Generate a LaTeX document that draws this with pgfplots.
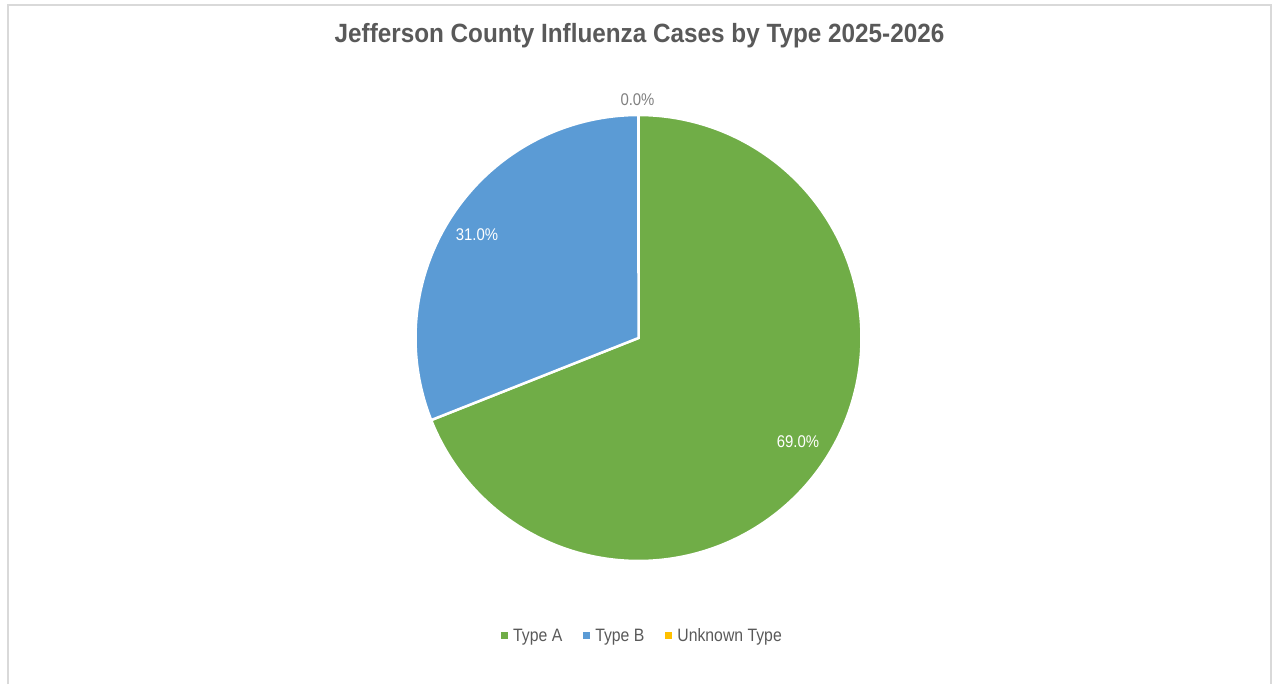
\documentclass[border=0pt]{standalone}
\usepackage{pgfplots}
\pgfplotsset{compat=1.18}
\usepackage{fontspec}
\setmainfont{Liberation Sans}[FakeStretch=0.88]
\newfontfamily\titlefont{Liberation Sans}[FakeStretch=0.92]
\definecolor{cA}{HTML}{70AD47}
\definecolor{cB}{HTML}{5B9BD5}
\definecolor{cU}{HTML}{FFC000}
\definecolor{txt}{HTML}{595959}
\definecolor{lbl}{HTML}{7F7F7F}
\definecolor{frame}{HTML}{D9D9D9}
% data (percent of cases)
\def\vA{69.0}
\def\vB{31.0}
\def\vU{0.0}
\begin{document}
\begin{tikzpicture}
\pgfmathsetmacro\tot{\vA+\vB+\vU}
\pgfmathsetmacro\fA{\vA/\tot}
\pgfmathsetmacro\fB{\vB/\tot}
\pgfmathsetmacro\aA{90-360*\fA}
\pgfmathsetmacro\aB{\aA-360*\fB}
\begin{axis}[
  x=1bp, y=1bp, xmin=0, xmax=1272, ymin=0, ymax=664,
  scale only axis, hide axis, clip=false,
  at={(0,0)}, anchor=origin,
  /pgf/number format/assume math mode=true,
  legend style={at={(axis cs:642.5,28)}, anchor=center, draw=none, fill=none,
    font=\fontsize{18}{20}\selectfont\color{txt}, legend columns=-1,
    /tikz/every odd column/.append style={column sep=3bp},
    /tikz/every even column/.append style={column sep=19bp}},
  legend image code/.code={\fill[#1] (0bp,-3.5bp) rectangle (7bp,3.5bp);},
]
\addplot[forget plot, fill=cA, draw=white, line width=2.5bp, domain=\aA:90, samples=200]
  ({638.5+223*cos(x)},{326+223*sin(x)}) -- (axis cs:638.5,326) -- cycle;
\addplot[forget plot, fill=cB, draw=white, line width=2.5bp, domain=\aB:\aA, samples=120]
  ({638.5+223*cos(x)},{326+223*sin(x)}) -- (axis cs:638.5,326) -- cycle;
\addlegendimage{fill=cA, draw=none}
\addlegendentry{Type A}
\addlegendimage{fill=cB, draw=none}
\addlegendentry{Type B}
\addlegendimage{fill=cU, draw=none}
\addlegendentry{Unknown Type}
\node[text=white, font=\fontsize{17}{20}\selectfont] at (axis cs:798,222)
  {\pgfmathprintnumber[fixed,fixed zerofill,precision=1,assume math mode=true]{\vA}\%};
\node[text=white, font=\fontsize{17}{20}\selectfont] at (axis cs:477,429)
  {\pgfmathprintnumber[fixed,fixed zerofill,precision=1,assume math mode=true]{\vB}\%};
\node[text=lbl, font=\fontsize{17}{20}\selectfont] at (axis cs:637.5,564)
  {\pgfmathprintnumber[fixed,fixed zerofill,precision=1,assume math mode=true]{\vU}\%};
\node[text=txt, font=\titlefont\bfseries\fontsize{26.5}{30}\selectfont, anchor=base] at (axis cs:639.5,621)
  {Jefferson County Influenza Cases by Type 2025-2026};
\end{axis}
\draw[frame, line width=1.2bp] (8bp,-20bp) -- (8bp,659bp) -- (1271bp,659bp) -- (1271bp,-20bp);
\path[use as bounding box] (0,0) rectangle (1272bp,664bp);
\end{tikzpicture}
\end{document}
